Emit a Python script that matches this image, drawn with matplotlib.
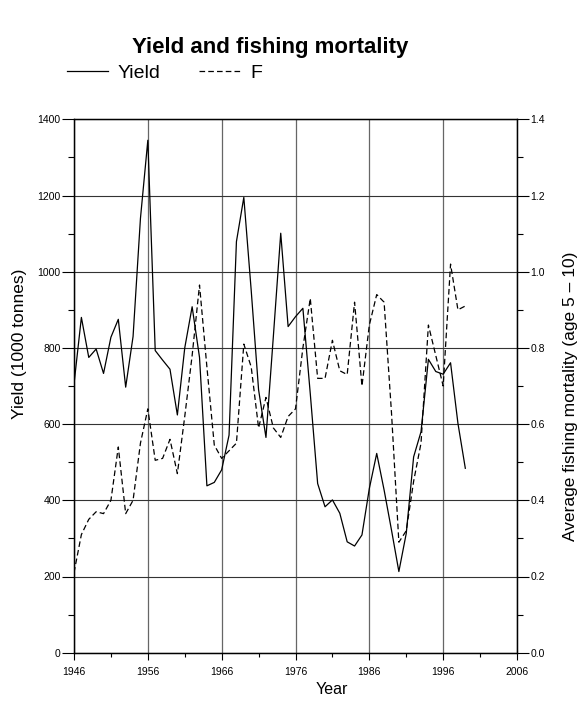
import matplotlib.pyplot as plt
from matplotlib.lines import Line2D

plt.rcParams['font.family'] = 'Liberation Sans'

# data
years = list(range(1946, 2000))
yield_kt = [705, 880, 775, 797, 733, 828, 875, 697, 830, 1140,
            1345, 793, 768, 744, 624, 800, 908, 775, 438, 447,
            480, 571, 1079, 1195, 951, 690, 565, 830, 1101, 856,
            882, 904, 680, 444, 383, 401, 366, 291, 280, 309,
            431, 523, 427, 322, 213, 313, 514, 580, 770, 738,
            731, 761, 602, 484]
f_mort = [0.21, 0.31, 0.35, 0.37, 0.365, 0.40, 0.54, 0.365, 0.40, 0.55,
          0.64, 0.505, 0.51, 0.56, 0.47, 0.62, 0.78, 0.965, 0.75, 0.545,
          0.51, 0.53, 0.55, 0.81, 0.75, 0.59, 0.67, 0.59, 0.565, 0.62,
          0.64, 0.80, 0.93, 0.72, 0.72, 0.82, 0.74, 0.73, 0.92, 0.70,
          0.86, 0.94, 0.92, 0.63, 0.29, 0.32, 0.45, 0.55, 0.86, 0.78,
          0.70, 1.02, 0.90, 0.91]

x_major = list(range(1946, 2007, 10))
x_minor = list(range(1951, 2006, 10))
y_major = list(range(0, 1401, 200))
y_minor = list(range(100, 1400, 200))
f_major = [0.0, 0.2, 0.4, 0.6, 0.8, 1.0, 1.2, 1.4]
f_minor = [0.1, 0.3, 0.5, 0.7, 0.9, 1.1, 1.3]

fig = plt.figure(figsize=(5.82, 7.09), dpi=100)
ax = fig.add_axes([74/582, 1-652.7/709, 443/582, 533.4/709])

ax.plot(years, yield_kt, color='k', lw=0.9)
ax.set_xlim(1946, 2006)
ax.set_ylim(0, 1400)
ax.set_xticks(x_major)
ax.set_xticks(x_minor, minor=True)
ax.set_yticks(y_major)
ax.set_yticks(y_minor, minor=True)
ax.yaxis.grid(True, which='major', color='#333333', lw=0.8)
ax.xaxis.grid(True, which='major', color='#666666', lw=0.9)
ax.set_axisbelow(True)
ax.tick_params(axis='x', which='major', length=5, width=0.8, labelsize=7.5, pad=5)
ax.tick_params(axis='x', which='minor', length=3, width=0.8)
ax.tick_params(axis='y', which='major', length=8.6, width=0.8, labelsize=7.5, pad=1)
ax.tick_params(axis='y', which='minor', length=4.3, width=0.8)
for s in ax.spines.values():
    s.set_linewidth(1.0)

ax.set_xlabel('Year', fontsize=11.5)
ax.xaxis.set_label_coords((332-74)/443, (652.7-682)/533.4)
ax.set_ylabel('Yield (1000 tonnes)', fontsize=12.5)
ax.yaxis.set_label_coords((27-74)/443, 0.58)

ax2 = ax.twinx()
ax2.plot(years, f_mort, color='k', lw=0.9, dashes=(4.5, 2.5))
ax2.set_ylim(0, 1.4)
ax2.set_yticks(f_major)
ax2.set_yticks(f_minor, minor=True)
ax2.set_yticklabels(['%.1f' % v for v in f_major])
ax2.tick_params(axis='y', which='major', length=8.6, width=0.8, labelsize=7.5, pad=1)
ax2.tick_params(axis='y', which='minor', length=4.3, width=0.8)
ax2.set_ylabel('Average fishing mortality (age 5 \u2013 10)', fontsize=12.5)
ax2.yaxis.set_label_coords((563-74)/443, 0.48)

fig.text(270/582, 1-47/709, 'Yield and fishing mortality', ha='center', va='center',
         fontsize=16, fontweight='bold')

handles = [Line2D([], [], color='k', lw=0.9),
           Line2D([], [], color='k', lw=0.9, dashes=(4.5, 2.5))]
fig.legend(handles, ['Yield', 'F'], loc='center left', bbox_to_anchor=(67/582, 1-73/709),
           ncol=2, frameon=False, fontsize=14, handlelength=2.1, handletextpad=0.5,
           columnspacing=2.0, borderpad=0, borderaxespad=0)

fig.savefig('out.png', dpi=100)
